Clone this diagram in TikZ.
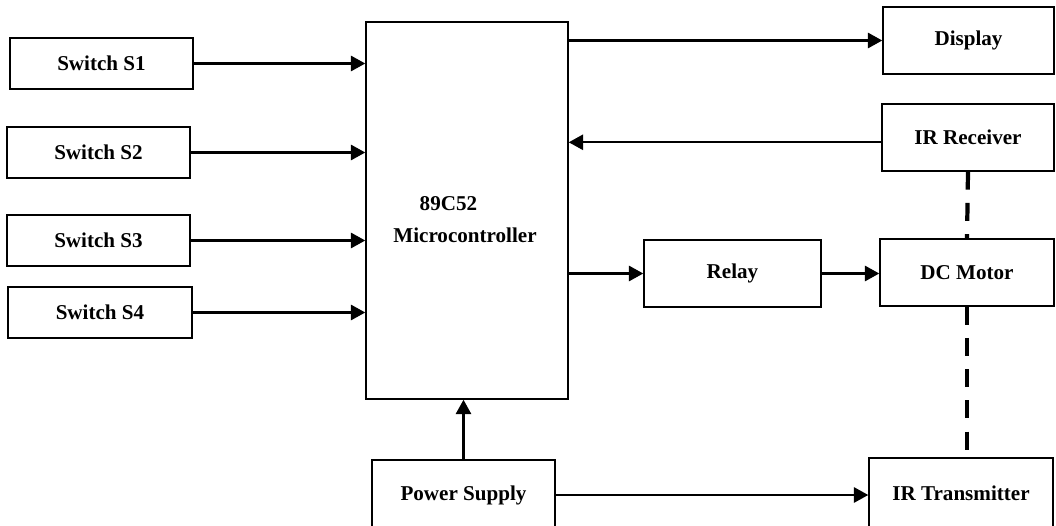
\documentclass[tikz,border=0pt]{standalone}
\usepackage{fontspec}
\setmainfont{Liberation Serif}
\usetikzlibrary{arrows.meta}

\begin{document}
\begin{tikzpicture}[x=0.025cm,y=-0.025cm,
  blk/.style={draw,line width=1pt,inner sep=0pt,font=\fontsize{15}{18}\selectfont\bfseries},
  arr/.style={line width=1.7pt,-{Triangle[length=0.36cm,width=0.38cm]}},
  wire/.style={line width=3pt,dash pattern=on 0.45cm off 0.33cm}]
\clip (0,0) rectangle (1056,525);
\node[blk,minimum width=4.575cm,minimum height=1.275cm] (s1) at (101.5,63.5) {Switch S1};
\node[blk,minimum width=4.575cm,minimum height=1.275cm] (s2) at (98.5,152.5) {Switch S2};
\node[blk,minimum width=4.575cm,minimum height=1.275cm] (s3) at (98.5,240.5) {Switch S3};
\node[blk,minimum width=4.6cm,minimum height=1.275cm] (s4) at (100,312.5) {Switch S4};
\node[blk,minimum width=5.05cm,minimum height=9.425cm] (mcu) at (467,210.5) {};
\node[font=\fontsize{15}{22.8}\selectfont\bfseries,align=left,inner sep=0pt] (mcutxt) at (465,220) {\hspace*{1.25em}89C52\\Microcontroller};
\node[blk,minimum width=4.275cm,minimum height=1.675cm,text depth=0.4em] (disp) at (968.5,40.5) {Display};
\node[blk,minimum width=4.3cm,minimum height=1.675cm] (irr) at (968,137.5) {IR Receiver};
\node[blk,minimum width=4.425cm,minimum height=1.675cm] (relay) at (732.5,273.5) {Relay};
\node[blk,minimum width=4.35cm,minimum height=1.675cm] (motor) at (967,272.5) {DC Motor};
\node[blk,minimum width=4.575cm,minimum height=1.75cm] (psu) at (463.5,495) {Power Supply};
\node[blk,minimum width=4.6cm,minimum height=1.75cm] (irt) at (961,493) {IR Transmitter};

\draw[arr] (s1) -- (s1 -| mcu.west);
\draw[arr] (s2) -- (s2 -| mcu.west);
\draw[arr] (s3) -- (s3 -| mcu.west);
\draw[arr] (s4) -- (s4 -| mcu.west);
\draw[arr] (disp -| mcu.east) -- (disp);
\draw[arr] ([yshift=-0.12cm]irr.west) -- ([yshift=-0.12cm]irr.west -| mcu.east);
\draw[arr] (relay -| mcu.east) -- (relay);
\draw[arr] (relay) -- (relay -| motor.west);
\draw[arr] (psu) -- (psu |- mcu.south);
\draw[arr] (psu) -- (psu -| irt.west);
\draw[wire] (irr.south) -- (motor.north);
\draw[wire] (motor.south) -- (motor.south |- irt.north);
\end{tikzpicture}
\end{document}
